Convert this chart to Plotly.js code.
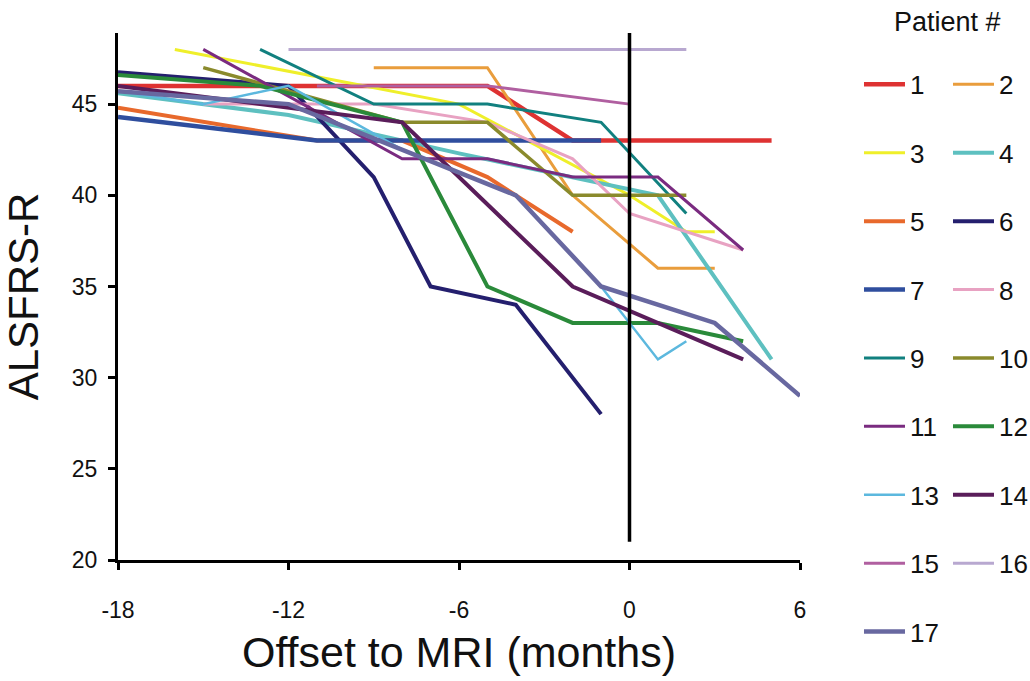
<!DOCTYPE html>
<html>
<head>
<meta charset="utf-8">
<script src="https://cdn.plot.ly/plotly-3.0.1.min.js"></script>
<style>html,body{margin:0;padding:0;background:#fff;}#chart{width:1030px;height:681px;}</style>
</head>
<body>
<div id="chart"></div>
<script>
// Patient ALSFRS-R trajectories: offset to MRI (months) and score
const patientNames = ["1","2","3","4","5","6","7","8","9","10","11","12","13","14","15","16","17"];
const m1 = [-18,-5,-2,5];              const s1 = [46,46,43,43];
const m2 = [-9,-5,-2,1,3];             const s2 = [47,47,40,36,36];
const m3 = [-16,-6,0,2,3];             const s3 = [48,45,40,38,38];
const m4 = [-18,-12,-6,1,5];           const s4 = [45.6,44.4,42.3,40,31];
const m5 = [-18,-11,-8,-5,-2];         const s5 = [44.8,43,43,41,38];
const m6 = [-18,-12,-9,-7,-4,-1];      const s6 = [46.75,46,41,35,34,28];
const m7 = [-18,-11,-1];               const s7 = [44.3,43,43];
const m8 = [-15,-9,-5,-2,0,4];         const s8 = [45,45,44,42,39,37];
const m9 = [-13,-9,-5,-1,2];           const s9 = [48,45,45,44,39];
const m10 = [-15,-8,-5,-2,2];          const s10 = [47,44,44,40,40];
const m11 = [-15,-8,-5,-2,1,4];        const s11 = [48,42,42,41,41,37];
const m12 = [-18,-13,-8,-5,-2,1,4];    const s12 = [46.6,46,44,35,33,33,32];
const m13 = [-18,-15,-12,-8,-4,-1,1,2];const s13 = [45.7,45,46,42.5,40,35,31,32];
const m14 = [-18,-8,-2,4];             const s14 = [46,44,35,31];
const m15 = [-11,-5,0];                const s15 = [46,46,45];
const m16 = [-12,2];                   const s16 = [48,48];
const m17 = [-18,-12,-4,-1,3,6];       const s17 = [45.7,45,40,35,33,29];

const mriLineX = [0, 0];
const mriLineY = [21, 48.9];

const xTicks = [-18, -12, -6, 0, 6];
const yTicks = [20, 25, 30, 35, 40, 45];

const months = [m1,m2,m3,m4,m5,m6,m7,m8,m9,m10,m11,m12,m13,m14,m15,m16,m17];
const scores = [s1,s2,s3,s4,s5,s6,s7,s8,s9,s10,s11,s12,s13,s14,s15,s16,s17];

const colors = ["#DE3232","#E99D3C","#EFEF2A","#5EC0C0","#E8692C","#241F6E","#2F4E9E","#E8A2C2",
                "#11807F","#8A8A2C","#7A2B80","#2A8A3A","#5CB8DE","#5A1D5A","#B05FA0","#B8A8D0","#6868A0"];
const widths = [4.5,3,3,4,4,4,4.5,3,3,3.5,3,4,2.5,4,3,3,4.5];

const traces = [];
for (let i = 0; i < months.length; i++) {
  traces.push({
    type: "scatter", mode: "lines",
    x: months[i], y: scores[i],
    name: patientNames[i],
    legendgroup: "g" + patientNames[i],
    legend: (i % 2 === 0) ? "legend" : "legend2",
    line: {color: colors[i], width: widths[i]},
    hoverinfo: "skip"
  });
}
traces.push({
  type: "scatter", mode: "lines",
  x: mriLineX, y: mriLineY,
  line: {color: "#000", width: 3.5},
  showlegend: false, hoverinfo: "skip"
});

const fontFam = "Liberation Sans, Arial, Helvetica, sans-serif";
const legendCommon = {
  orientation: "v", traceorder: "grouped", tracegroupgap: 31.6, itemwidth: 41,
  maxheight: 681,
  font: {family: fontFam, size: 26, color: "#111"},
  bgcolor: "rgba(0,0,0,0)", borderwidth: 0,
  xanchor: "left", yanchor: "top", y: 0.947
};

const layout = {
  width: 1030, height: 681,
  margin: {l: 118, r: 230, t: 33, b: 121, autoexpand: false},
  paper_bgcolor: "#fff", plot_bgcolor: "#fff",
  font: {family: fontFam, color: "#111"},
  xaxis: {
    range: [-18, 6], tickvals: xTicks, ticktext: xTicks.map(String),
    showgrid: false, zeroline: false, showline: true, linecolor: "#000", linewidth: 3,
    ticks: "outside", ticklen: 7, tickwidth: 3, tickcolor: "#000",
    ticklabelstandoff: 20,
    tickfont: {family: fontFam, size: 23, color: "#111"},
    title: {text: "Offset to MRI (months)", font: {family: fontFam, size: 43, color: "#111"}, standoff: 16}
  },
  yaxis: {
    range: [20, 48.9], tickvals: yTicks, ticktext: yTicks.map(String),
    showgrid: false, zeroline: false, showline: true, linecolor: "#000", linewidth: 3,
    ticks: "outside", ticklen: 7, tickwidth: 3, tickcolor: "#000",
    ticklabelstandoff: 6,
    tickfont: {family: fontFam, size: 23, color: "#111"},
    title: {text: "ALSFRS-R", font: {family: fontFam, size: 42, color: "#111"}, standoff: 24}
  },
  legend: Object.assign({}, legendCommon, {x: 1.0865}),
  legend2: Object.assign({}, legendCommon, {x: 1.217}),
  showlegend: true,
  annotations: [{
    text: "Patient #", xref: "paper", yref: "paper",
    x: 1.217, y: 1.021, xanchor: "center", yanchor: "middle",
    showarrow: false, font: {family: fontFam, size: 27, color: "#111"}
  }]
};

Plotly.newPlot("chart", traces, layout, {displayModeBar: false, staticPlot: true});
</script>
</body>
</html>
